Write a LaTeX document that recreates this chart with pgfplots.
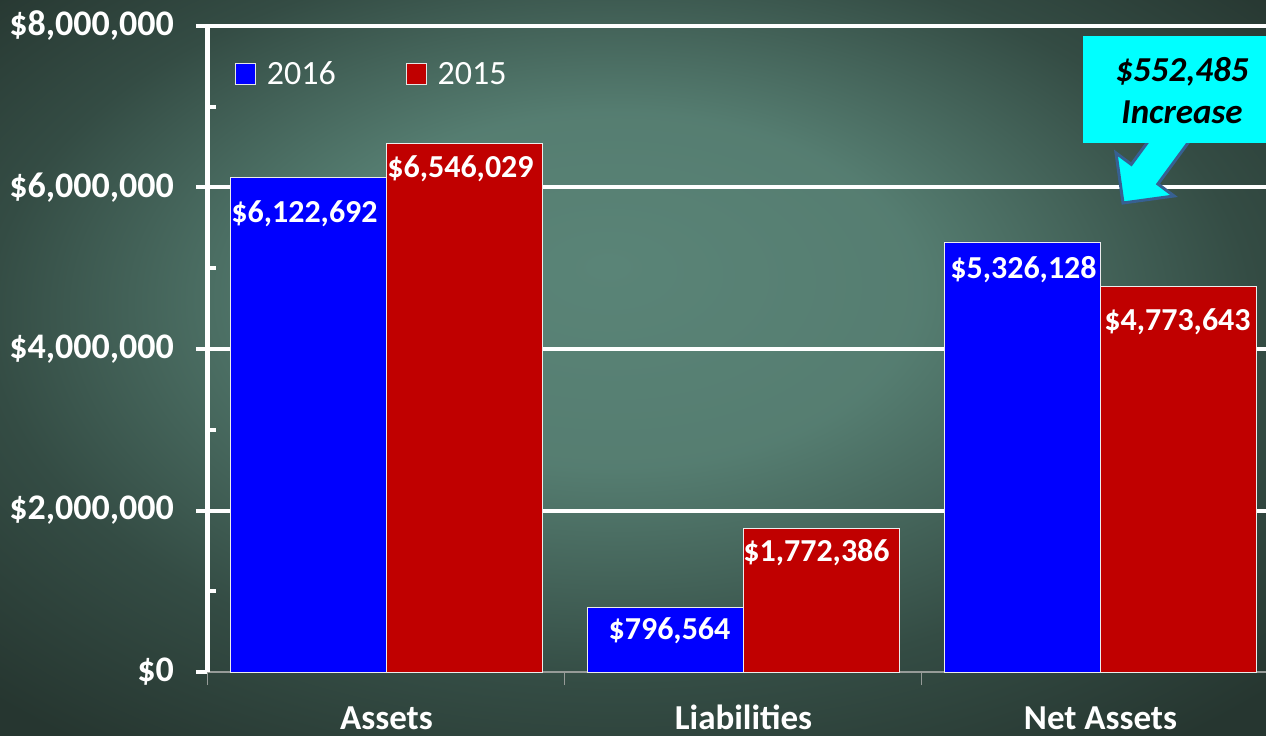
\documentclass[border=0pt]{standalone}
\usepackage{pgfplots}
\pgfplotsset{compat=1.18}
\usepackage{pgfplotstable}
\usepackage{fontspec}
\setmainfont{Carlito}
\definecolor{bgin}{RGB}{90,132,119}
\definecolor{bgmid}{RGB}{52,76,68}
\definecolor{bgout}{RGB}{38,54,48}
\definecolor{barblue}{RGB}{0,0,255}
\definecolor{barred}{RGB}{192,0,0}
\definecolor{callcyan}{RGB}{0,255,255}
\definecolor{arrowedge}{RGB}{55,96,146}
\definecolor{axgray}{RGB}{150,155,152}
\pgfdeclareradialshading{bgshade}{\pgfpoint{-1bp}{7bp}}{color(0bp)=(bgin); color(12bp)=(bgin!88!bgmid); color(25bp)=(bgmid); color(35bp)=(bgout); color(50bp)=(bgout)}

\pgfplotstableread{
x y lab dx dy
0 6122692 6,122,692 -4 -23
1 796564 796,564 4 -10
2 5326128 5,326,128 1 -14
}\datasixteen
\pgfplotstableread{
x y lab dx dy
0 6546029 6,546,029 -4 -12
1 1772386 1,772,386 -5 -10
2 4773643 4,773,643 -1 -22
}\datafifteen

\begin{document}
\begin{tikzpicture}[x=1pt,y=1pt]
\useasboundingbox (-208,-64) rectangle (1058,672);
\fill[shading=bgshade] (-208,-64) rectangle (1058,672);
\begin{axis}[
  at={(0pt,0pt)}, anchor=south west,
  scale only axis, width=1058pt, height=646pt,
  xmin=-0.5, xmax=2.4636, ymin=0, ymax=8000000,
  scaled y ticks=false,
  ybar=0pt, bar width=156pt,
  separate axis lines,
  axis x line*=bottom, axis y line*=left,
  x axis line style={draw=axgray, line width=1.2pt},
  y axis line style={draw=white, line width=5pt},
  tick align=outside,
  major tick length=12pt,
  ytick={0,2000000,4000000,6000000,8000000},
  yticklabels={{\$0},{\$2,000,000},{\$4,000,000},{\$6,000,000},{\$8,000,000}},
  ytick style={draw=white, line width=4pt},
  minor ytick={1000000,3000000,5000000,7000000},
  minor tick length=7pt,
  minor tick style={draw=white, line width=4pt, xshift=8pt},
  extra y ticks={2000000,4000000,6000000,8000000},
  extra y tick labels={},
  extra y tick style={grid=major, major tick length=0pt},
  major grid style={draw=white, line width=4pt},
  xtick={0,1,2},
  xticklabels={Assets,Liabilities,{Net Assets}},
  xtick style={draw=none},
  extra x ticks={-0.5,0.5,1.5},
  extra x tick labels={},
  extra x tick style={xtick style={draw=axgray, line width=1pt}, major tick length=13pt},
  yticklabel style={font=\fontsize{36}{40}\selectfont\bfseries, text=white, inner sep=0pt, xshift=-22pt},
  xticklabel style={font=\fontsize{35}{40}\selectfont\bfseries, text=white, inner sep=0pt, anchor=base, yshift=-45pt},
  nodes near coords={\$\pgfplotspointmeta},
  point meta=explicit symbolic,
  visualization depends on={\thisrow{dx} \as \labdx},
  visualization depends on={\thisrow{dy} \as \labdy},
  nodes near coords align={below},
  every node near coord/.append style={font=\fontsize{32}{36}\selectfont\bfseries, text=white, inner sep=0pt, yshift=\labdy pt, xshift=\labdx pt},
  legend columns=2,
  legend style={draw=none, fill=none, at={(axis description cs:0.0255,0.9257)}, anchor=west,
    font=\fontsize{34}{40}\selectfont, text=white, inner sep=0pt,
    nodes={inner sep=0pt},
    /tikz/every even column/.append style={column sep=70pt}},
  legend image code/.code={\draw[#1, draw=white!80!gray, line width=0.8pt] (0pt,-10pt) rectangle (20pt,11pt);},
]
\addplot[fill=barblue, draw=white!85!gray, line width=0.8pt] table[x=x, y=y, meta=lab] {\datasixteen};
\addplot[fill=barred, draw=white!85!gray, line width=0.8pt] table[x=x, y=y, meta=lab] {\datafifteen};
\legend{\hspace{11pt}2016,\hspace{11pt}2015}
\end{axis}
\begin{scope}[x=1pt,y=-1pt,shift={(-208pt,672pt)}]
\filldraw[fill=callcyan, draw=arrowedge, line width=3pt, line join=miter]
  (1156.5,130) -- (1131.3,164.4) -- (1116,153) -- (1123,203) -- (1174,196) -- (1157.9,184) -- (1197.5,130) -- cycle;
\fill[callcyan] (1083,36) rectangle (1270,143);
\node[align=center, font=\fontsize{35}{42}\selectfont\bfseries\itshape, text=black, inner sep=0pt] at (1182,91) {\$552,485\\Increase};
\end{scope}
\end{tikzpicture}
\end{document}
